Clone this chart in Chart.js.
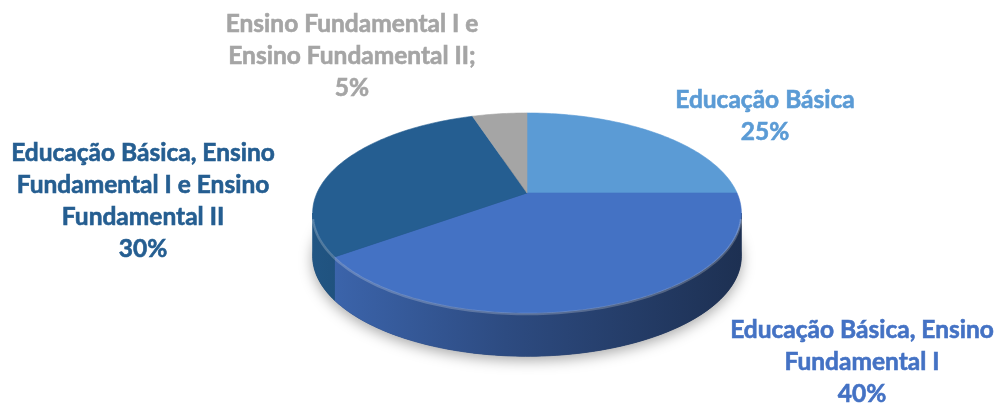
<!DOCTYPE html>
<html lang="pt">
  <head>
    <meta charset="UTF-8" />
    <title>Formação</title>
    <script src="https://cdn.jsdelivr.net/npm/chart.js"></script>
    <style>
      html, body { margin: 0; padding: 0; background: #fff; }
      canvas { display: block; }
    </style>
  </head>
  <body>
    <canvas id="pie" width="997" height="403"></canvas>
    <script>
      // dados
      const categories = [
        "Educação Básica",
        "Educação Básica, Ensino Fundamental I",
        "Educação Básica, Ensino Fundamental I e Ensino Fundamental II",
        "Ensino Fundamental I e Ensino Fundamental II",
      ];
      const values = [25, 40, 30, 5];
      const labelLines = [
        ["Educação Básica"],
        ["Educação Básica, Ensino", "Fundamental I"],
        ["Educação Básica, Ensino", "Fundamental I e Ensino", "Fundamental II"],
        ["Ensino Fundamental I e", "Ensino Fundamental II;"],
      ];
      const sliceColors = ["#5b9bd5", "#4472c4", "#255e91", "#a5a5a5"];

      // perspectiva da pizza 3D
      const TILT = { ax: 1.214, by: 0.555, k: 0.2, depth: 0.25 };
      const LABEL_POS = [[238, -77], [335, 169], [-384, 8], [-175, -137]];
      const LINE_H = 32;

      function proj(el, a, s) {
        const u = s * Math.cos(a), v = s * Math.sin(a);
        const w = 1 - TILT.k * v;
        return [el.x + (TILT.ax * el.outerRadius * u) / w, el.y + (TILT.by * el.outerRadius * v) / w];
      }
      function rgb(hex) {
        return [1, 3, 5].map((i) => parseInt(hex.substr(i, 2), 16));
      }
      function shade(hex, f) {
        const c = rgb(hex).map((x) => Math.round(x * f));
        return "rgb(" + c.join(",") + ")";
      }
      function rimPath(ctx, el, a0, a1, dy, move) {
        const n = Math.max(2, Math.ceil(Math.abs(a1 - a0) / 0.02));
        for (let i = 0; i <= n; i++) {
          const p = proj(el, a0 + ((a1 - a0) * i) / n, 1);
          if (i === 0 && move) ctx.moveTo(p[0], p[1] + dy);
          else ctx.lineTo(p[0], p[1] + dy);
        }
      }

      const pie3d = {
        id: "pie3d",
        beforeDatasetsDraw(chart) {
          const ctx = chart.ctx;
          const meta = chart.getDatasetMeta(0);
          const els = meta.data;
          const e0 = els[0];
          const D = TILT.depth * e0.outerRadius;
          const aR = Math.asin(TILT.k), aL = Math.PI - aR;
          const left = proj(e0, aL, 1)[0], right = proj(e0, aR, 1)[0];

          // sombra
          ctx.save();
          ctx.beginPath();
          rimPath(ctx, e0, 0, Math.PI * 2, D, true);
          ctx.closePath();
          ctx.shadowColor = "rgba(0,0,0,0.35)";
          ctx.shadowBlur = 14;
          ctx.shadowOffsetY = 4;
          ctx.fillStyle = "#1b2a4b";
          ctx.fill();
          ctx.restore();

          // laterais
          els.forEach((el, i) => {
            const a0 = Math.max(el.startAngle, aR);
            const a1 = Math.min(el.endAngle, aL);
            if (a1 <= a0) return;
            const g = ctx.createLinearGradient(left, 0, right, 0);
            g.addColorStop(0, shade(sliceColors[i], 0.9));
            g.addColorStop(0.45, shade(sliceColors[i], 0.66));
            g.addColorStop(1, shade(sliceColors[i], 0.42));
            ctx.beginPath();
            rimPath(ctx, el, a0, a1, 0, true);
            rimPath(ctx, el, a1, a0, D, false);
            ctx.closePath();
            ctx.fillStyle = g;
            ctx.fill();
            ctx.strokeStyle = g;
            ctx.lineWidth = 0.8;
            ctx.stroke();
          });

          // topo
          els.forEach((el, i) => {
            ctx.beginPath();
            ctx.moveTo(el.x, el.y);
            rimPath(ctx, el, el.startAngle, el.endAngle, 0, false);
            ctx.closePath();
            ctx.fillStyle = sliceColors[i];
            ctx.fill();
            ctx.strokeStyle = sliceColors[i];
            ctx.lineWidth = 0.6;
            ctx.stroke();
          });

          // brilho da borda
          ctx.save();
          ctx.beginPath();
          rimPath(ctx, e0, aR + 0.05, aL - 0.05, 1, true);
          ctx.strokeStyle = "rgba(255,255,255,0.22)";
          ctx.lineWidth = 2.5;
          ctx.stroke();
          ctx.restore();
          return false;
        },
        afterDraw(chart) {
          const ctx = chart.ctx;
          const els = chart.getDatasetMeta(0).data;
          const total = values.reduce((s, v) => s + v, 0);
          ctx.save();
          ctx.font = "bold 24.5px Lato, 'Open Sans', sans-serif";
          ctx.textAlign = "center";
          ctx.textBaseline = "middle";
          els.forEach((el, i) => {
            const lines = labelLines[i].concat([Math.round((values[i] / total) * 100) + "%"]);
            const cx = el.x + LABEL_POS[i][0];
            const cy = el.y + LABEL_POS[i][1];
            const top = cy - ((lines.length - 1) * LINE_H) / 2;
            ctx.fillStyle = sliceColors[i];
            ctx.strokeStyle = sliceColors[i];
            ctx.lineWidth = 0.6;
            lines.forEach((t, j) => {
              ctx.fillText(t, cx, top + j * LINE_H);
              ctx.strokeText(t, cx, top + j * LINE_H);
            });
          });
          ctx.restore();
        },
      };

      new Chart(document.getElementById("pie"), {
        type: "pie",
        data: {
          labels: categories,
          datasets: [{ data: values, backgroundColor: sliceColors, borderWidth: 0 }],
        },
        options: {
          responsive: false,
          animation: false,
          layout: { padding: { top: 20, bottom: 37, left: 57, right: 0 } },
          plugins: { legend: { display: false }, tooltip: { enabled: false } },
        },
        plugins: [pie3d],
      });
    </script>
  </body>
</html>
